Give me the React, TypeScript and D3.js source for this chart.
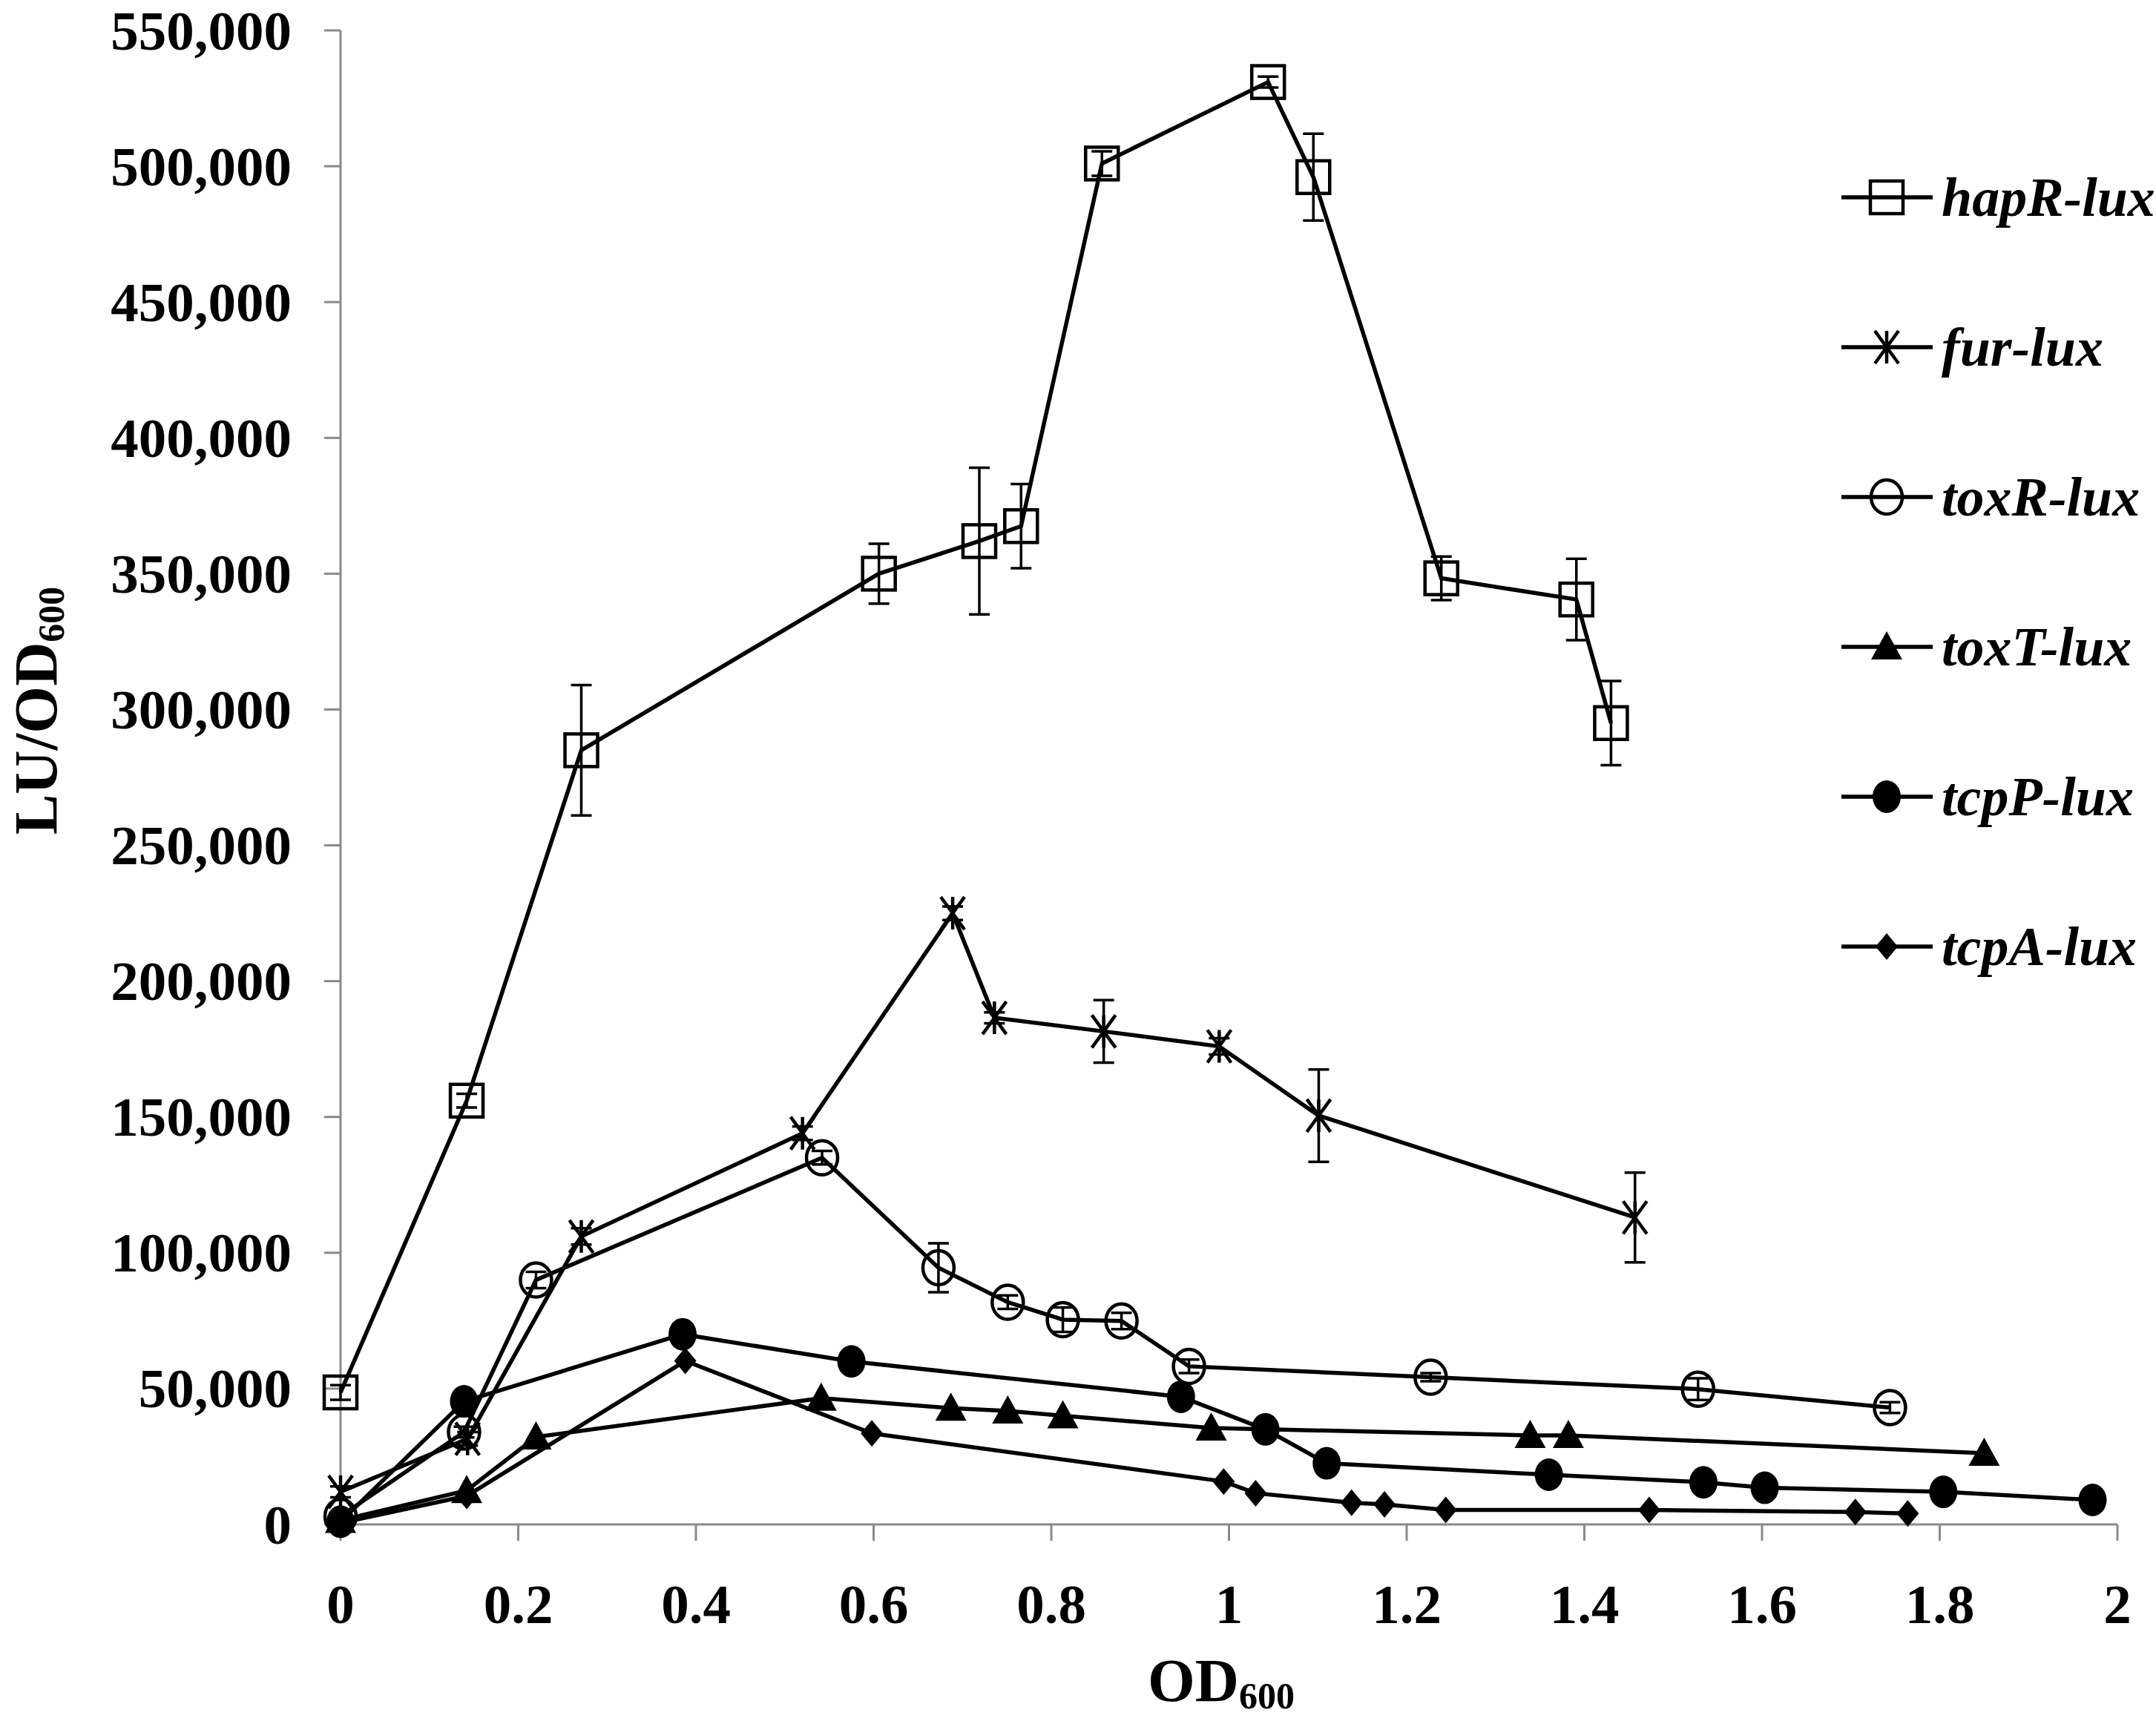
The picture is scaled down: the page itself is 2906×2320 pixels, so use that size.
import * as d3 from "d3";

// ---- data ----
const hapRX = [0, 0.142, 0.271, 0.606, 0.719, 0.766, 0.857, 1.044, 1.095, 1.239, 1.391, 1.43];
const hapRY = [48600, 156000, 285000, 350000, 362000, 367500, 501000, 531000, 496000, 348300, 340500, 295000];
const hapRErr = [2700, 2500, 24000, 11000, 27000, 15500, 4500, 2000, 16000, 8000, 15000, 15500];

const furX = [0, 0.143, 0.271, 0.52, 0.689, 0.736, 0.859, 0.989, 1.101, 1.457];
const furY = [12000, 31500, 106000, 144000, 225000, 186500, 181500, 176000, 150500, 113000];
const furErr = [2000, 2500, 3000, 2500, 2500, 2000, 11500, 3000, 17000, 16500];

const toxRX = [0, 0.139, 0.22, 0.542, 0.673, 0.751, 0.813, 0.879, 0.955, 1.227, 1.528, 1.744];
const toxRY = [3000, 34000, 90000, 135000, 94500, 81800, 75400, 74900, 58200, 54200, 49800, 43000];
const toxRErr = [1000, 2000, 3000, 2500, 9000, 2500, 4500, 3000, 2500, 1500, 4000, 2000];

const toxTX = [0, 0.142, 0.22, 0.541, 0.687, 0.751, 0.813, 0.98, 1.339, 1.382, 1.85];
const toxTY = [1500, 12500, 32200, 46500, 42800, 41800, 40000, 35500, 32800, 32800, 26200];

const tcpPX = [0, 0.139, 0.385, 0.575, 0.946, 1.041, 1.11, 1.36, 1.534, 1.603, 1.804, 1.972];
const tcpPY = [1000, 45300, 70000, 60000, 47000, 35000, 22500, 18300, 15500, 13500, 12000, 9000];

const tcpAX = [0, 0.142, 0.388, 0.598, 0.994, 1.03, 1.138, 1.175, 1.244, 1.473, 1.705, 1.764];
const tcpAY = [500, 10500, 60200, 33500, 15800, 11500, 8000, 7400, 5300, 5300, 4600, 4000];

const seriesNames = ["hapR", "fur", "toxR", "toxT", "tcpP", "tcpA"];
const markerKinds = ["square", "asterisk", "openCircle", "triangle", "circle", "diamond"];

const yTicks = d3.range(0, 550001, 50000);
const xTicks = d3.range(0, 11).map((i) => i * 0.2);

const W = 2906;
const H = 2320;
const FONT = "'Liberation Serif', 'Times New Roman', serif";

function Marker({ kind, cx, cy }: { kind: string; cx: number; cy: number }) {
    if (kind === "square") {
        return <rect x={cx - 22} y={cy - 22} width={44} height={44} fill="none" stroke="#000" strokeWidth={4.5} />;
    }
    if (kind === "openCircle") {
        return <ellipse cx={cx} cy={cy} rx={21} ry={23} fill="none" stroke="#000" strokeWidth={4.5} />;
    }
    if (kind === "circle") {
        return <ellipse cx={cx} cy={cy} rx={19} ry={22} fill="#000" />;
    }
    if (kind === "triangle") {
        return <path d={`M${cx},${cy - 21}L${cx + 21},${cy + 17}L${cx - 21},${cy + 17}Z`} fill="#000" />;
    }
    if (kind === "diamond") {
        return <path d={`M${cx},${cy - 18}L${cx + 15},${cy}L${cx},${cy + 18}L${cx - 15},${cy}Z`} fill="#000" />;
    }
    // asterisk: vertical stroke plus an X
    const a = 22;
    const dx = 16;
    return (
        <path
            d={`M${cx},${cy - a}L${cx},${cy + a}M${cx - dx},${cy - a}L${cx + dx},${cy + a}M${cx + dx},${cy - a}L${cx - dx},${cy + a}`}
            stroke="#000"
            strokeWidth={4.5}
            fill="none"
        />
    );
}

export default function App() {
    const x = d3.scaleLinear([0, 2], [459, 2854]);
    const y = d3.scaleLinear([0, 550000], [2055, 41]);

    const allX = [hapRX, furX, toxRX, toxTX, tcpPX, tcpAX];
    const allY = [hapRY, furY, toxRY, toxTY, tcpPY, tcpAY];
    const allErr: (number[] | null)[] = [hapRErr, furErr, toxRErr, null, null, null];

    const line = d3
        .line<[number, number]>()
        .x((d) => x(d[0]))
        .y((d) => y(d[1]));

    const yFmt = d3.format(",");
    const xFmt = (t: number) => String(+t.toFixed(1));

    const legendY = d3.range(6).map((i) => 266 + i * 202);

    return (
        <svg
            width={W}
            height={H}
            style={{ position: "absolute", left: 0, top: 0, background: "#fff" }}
            fontFamily={FONT}
        >
            <rect width={W} height={H} fill="#fff" />

            {/* axes */}
            <g stroke="#8a8a8a" strokeWidth={3}>
                <line x1={x(0)} x2={x(0)} y1={y(550000)} y2={y(0)} />
                <line x1={x(0)} x2={x(2)} y1={y(0)} y2={y(0)} />
                {yTicks.map((t) => (
                    <line key={"yt" + t} x1={x(0) - 22} x2={x(0)} y1={y(t)} y2={y(t)} />
                ))}
                {xTicks.map((t) => (
                    <line key={"xt" + t} x1={x(t)} x2={x(t)} y1={y(0)} y2={y(0) + 22} />
                ))}
            </g>
            <g fontSize={75} fontWeight="bold" fill="#000">
                {yTicks.map((t) => (
                    <text key={"yl" + t} x={393} y={y(t)} dy="0.34em" textAnchor="end">
                        {yFmt(t)}
                    </text>
                ))}
                {xTicks.map((t) => (
                    <text key={"xl" + t} x={x(t)} y={2188} textAnchor="middle">
                        {xFmt(t)}
                    </text>
                ))}
            </g>

            {/* axis titles */}
            <text x={1646} y={2293} fontSize={82} fontWeight="bold" textAnchor="middle">
                OD<tspan fontSize={50} dy={10}>600</tspan>
            </text>
            <text
                transform="translate(76,958) rotate(-90)"
                fontSize={82}
                fontWeight="bold"
                textAnchor="middle"
            >
                LU/OD<tspan fontSize={50} dy={10}>600</tspan>
            </text>

            {/* series */}
            {seriesNames.map((name, s) => {
                const pts: [number, number][] = allX[s].map((v, i) => [v, allY[s][i]]);
                const err = allErr[s];
                return (
                    <g key={name}>
                        <path d={line(pts) ?? ""} fill="none" stroke="#000" strokeWidth={5.5} />
                        {err &&
                            pts.map((p, i) => {
                                const px = x(p[0]);
                                const top = y(p[1] + err[i]);
                                const bot = y(p[1] - err[i]);
                                return (
                                    <path
                                        key={"e" + i}
                                        d={`M${px},${top}L${px},${bot}M${px - 14},${top}L${px + 14},${top}M${px - 14},${bot}L${px + 14},${bot}`}
                                        stroke="#000"
                                        strokeWidth={3.5}
                                        fill="none"
                                    />
                                );
                            })}
                        {pts.map((p, i) => (
                            <Marker key={"m" + i} kind={markerKinds[s]} cx={x(p[0])} cy={y(p[1])} />
                        ))}
                    </g>
                );
            })}

            {/* legend */}
            {seriesNames.map((name, s) => (
                <g key={"lg" + name}>
                    <line x1={2482} x2={2605} y1={legendY[s]} y2={legendY[s]} stroke="#000" strokeWidth={5.5} />
                    <Marker kind={markerKinds[s]} cx={2543} cy={legendY[s]} />
                    <text
                        x={2617}
                        y={legendY[s] + 25}
                        fontSize={74}
                        fontWeight="bold"
                        fontStyle="italic"
                    >
                        {name + "-lux"}
                    </text>
                </g>
            ))}
        </svg>
    );
}
